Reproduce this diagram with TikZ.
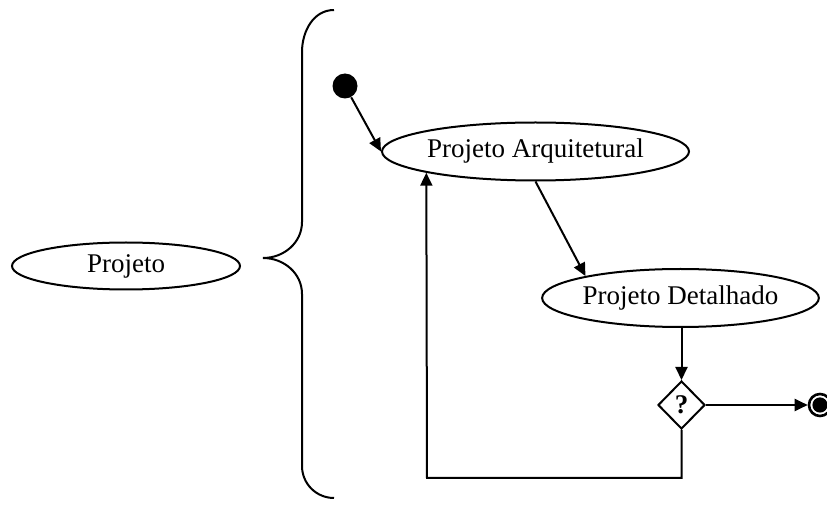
\documentclass[tikz,border=0pt]{standalone}
\usepackage{fontspec}
\setmainfont{Liberation Serif}
\usepackage{tikz}
\usetikzlibrary{shapes.geometric,arrows.meta}
\tikzstyle{myellipse} = [draw, line width=1pt, ellipse, inner sep=0pt, font=\fontsize{13.5}{16}\selectfont]
\tikzstyle{mydiamond} = [draw, line width=1pt, diamond, inner sep=0pt, minimum width=23.5pt, minimum height=24pt, font=\fontsize{13.5}{16}\selectfont\bfseries]
\tikzstyle{myarrow} = [-{Triangle[length=6.5pt,width=6pt]}, line width=1pt]

\begin{document}
\begin{tikzpicture}[x=0.5pt,y=-0.5pt]
\useasboundingbox (0,0) rectangle (827,508);
\node [myellipse, minimum width=114pt, minimum height=23.5pt] (projeto) at (126,266) {Projeto};
\draw [line width=1pt] (334,10) to[out=180,in=90] (302,52) -- (302,222) to[out=-90,in=0] (263,258)
  to[out=0,in=90] (302,294) -- (302,466) to[out=-90,in=180] (334,498);
\node [circle, fill, inner sep=0pt, minimum size=12.5pt] (ini) at (345,86) {};
\node [myellipse, minimum width=153.5pt, minimum height=29pt] (arq) at (535.5,151.5) {Projeto Arquitetural};
\draw [myarrow] (ini) -- (arq.west);
\node [myellipse, minimum width=137.5pt, minimum height=29pt] (det) at (680.5,298) {Projeto Detalhado};
\draw [myarrow] (arq.south) -- (det.167);
\node [mydiamond] (dec) at (681.5,405) {?};
\draw [myarrow] (det.south -| dec.north) -- (dec.north);
\node [circle, draw, line width=1.3pt, inner sep=0pt, minimum size=11pt] (fim) at (820,405) {};
\fill (fim) circle (3.8pt);
\draw [myarrow] (dec.east) -- (fim);
\coordinate (loop) at (427,478);
\draw [myarrow] (dec.south) |- (loop) -- (arq.191);
\end{tikzpicture}
\end{document}
